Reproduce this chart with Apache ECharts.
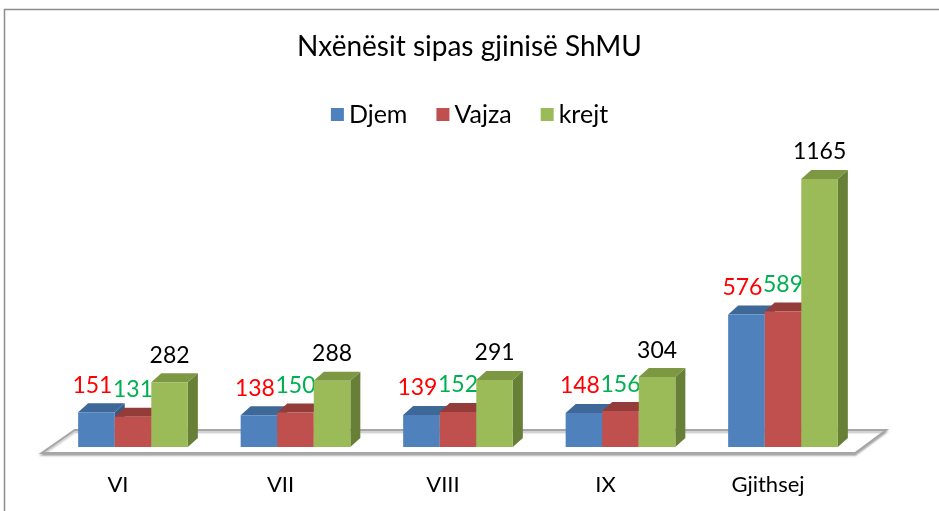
<!DOCTYPE html>
<html>
<head>
<meta charset="utf-8">
<script src="https://cdn.jsdelivr.net/npm/echarts@6/dist/echarts.min.js"></script>
<style>
  html, body { margin: 0; padding: 0; background: #fff; }
  #chart { width: 939px; height: 511px; }
</style>
</head>
<body>
<div id="chart"></div>
<script>
// te dhenat
var categories = ['VI', 'VII', 'VIII', 'IX', 'Gjithsej'];
var djem = [151, 138, 139, 148, 576];
var vajza = [131, 150, 152, 156, 589];
var krejt = [282, 288, 291, 304, 1165];

var FONT = 'Lato, "Noto Sans", sans-serif';

// ngjyrat e shiritave 3D: faqja, siper, anash
var looks = [
  { name: 'Djem',  data: djem,  face: '#4F81BD', top: '#3D6898', side: '#36598A', label: '#FF0000', pos: -1 },
  { name: 'Vajza', data: vajza, face: '#C0504D', top: '#933C39', side: '#803432', label: '#00B050', pos: 0 },
  { name: 'krejt', data: krejt, face: '#9BBB59', top: '#7D9843', side: '#687F37', label: '#000000', pos: 1 }
];

var DX = 10, DY = -9;

function barRenderer(look) {
  return function (params, api) {
    var idx = api.value(0);
    var val = api.value(1);
    var base = api.coord([idx, 0]);
    var top = api.coord([idx, val]);
    var band = api.size([1, 0])[0];
    var w = band * 0.225;
    var cx = base[0] + look.pos * w;
    var x0 = cx - w / 2, x1 = cx + w / 2;
    var yt = top[1], yb = base[1];
    return {
      type: 'group',
      children: [
        { type: 'polygon', shape: { points: [[x1, yt], [x1 + DX, yt + DY], [x1 + DX, yb + DY], [x1, yb]] }, style: { fill: look.side } },
        { type: 'polygon', shape: { points: [[x0, yt], [x0 + DX, yt + DY], [x1 + DX, yt + DY], [x1, yt]] }, style: { fill: look.top } },
        { type: 'rect', shape: { x: x0, y: yt, width: w, height: yb - yt }, style: { fill: look.face } },
        { type: 'text', z2: 100, style: {
            text: String(val), x: cx + (look.pos === -1 ? -4 : 0), y: yt - 27,
            align: 'center', verticalAlign: 'middle',
            fill: look.label, font: '23px ' + FONT } }
      ]
    };
  };
}

function floorRenderer(params, api) {
  var cs = params.coordSys;
  var b = cs.y + cs.height;
  var l = cs.x, r = cs.x + cs.width;
  return {
    type: 'polygon',
    shape: { points: [[l - 10, b + 6], [r - 9, b + 6], [r + 22, b - 17], [l + 23, b - 17]] },
    style: { fill: '#FFFFFF', stroke: '#A6A6A6', lineWidth: 2, shadowBlur: 2, shadowOffsetY: 2, shadowColor: 'rgba(0,0,0,0.25)' }
  };
}

var series = [{
  type: 'custom',
  name: 'floor',
  silent: true,
  z: 1,
  renderItem: floorRenderer,
  data: [[0, 0]]
}];
looks.forEach(function (lk, i) {
  series.push({
    type: 'custom',
    name: lk.name,
    z: 2 + i,
    itemStyle: { color: lk.face },
    renderItem: barRenderer(lk),
    encode: { x: 0, y: 1 },
    data: lk.data.map(function (v, k) { return [k, v]; })
  });
});

var chart = echarts.init(document.getElementById('chart'));
chart.setOption({
  animation: false,
  backgroundColor: '#FFFFFF',
  graphic: [{
    type: 'rect',
    shape: { x: 4.5, y: 9.5, width: 1000, height: 600 },
    style: { fill: 'none', stroke: '#8C8C8C', lineWidth: 1.5 },
    silent: true
  }],
  title: {
    text: 'Nxënësit sipas gjinisë ShMU',
    left: 'center',
    top: 28,
    textStyle: { fontFamily: FONT, fontSize: 28, fontWeight: 'normal', color: '#000' }
  },
  legend: {
    data: ['Djem', 'Vajza', 'krejt'],
    top: 97,
    left: 'center',
    icon: 'rect',
    itemWidth: 13,
    itemHeight: 13,
    itemGap: 29,
    textStyle: { fontFamily: FONT, fontSize: 25, color: '#000' }
  },
  grid: { left: 51.75, right: 74.75, top: 125, bottom: 64, containLabel: false },
  xAxis: {
    type: 'category',
    data: categories,
    axisLine: { show: false },
    axisTick: { show: false },
    axisLabel: { fontFamily: FONT, fontSize: 22, color: '#000', margin: 27, padding: [0, 30, 0, 0] }
  },
  yAxis: {
    type: 'value',
    min: 0,
    max: 1400,
    show: false,
    splitLine: { show: false }
  },
  series: series
});
</script>
</body>
</html>
